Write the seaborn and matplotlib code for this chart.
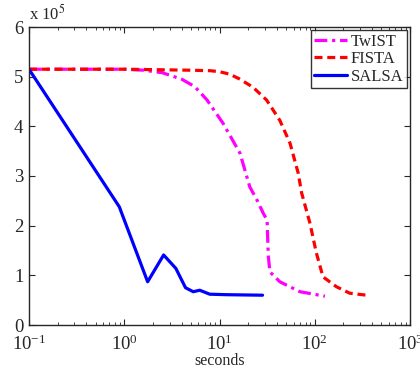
import seaborn as sns
import matplotlib.pyplot as plt
import pandas as pd

# values (y in units of 1e5)
twist_t = [0.1, 0.5, 1.0, 1.6, 2.5, 4.0, 5.5, 7.4, 10.9, 16.4, 20.8, 25.0, 28.8, 31.6, 32.5, 33.8, 43.0, 70.0, 128.0]
twist_y = [5.15, 5.15, 5.15, 5.13, 5.08, 4.95, 4.80, 4.53, 4.06, 3.46, 2.78, 2.50, 2.25, 2.11, 1.40, 1.07, 0.87, 0.67, 0.58]

fista_t = [0.1, 1.0, 5.0, 8.0, 10.0, 12.8, 16.0, 22.4, 31.2, 43.0, 55.0, 67.0, 72.8, 89.0, 104.0, 122.0, 169.0, 233.0, 350.0]
fista_y = [5.15, 5.15, 5.13, 5.12, 5.10, 5.05, 4.96, 4.79, 4.53, 4.12, 3.66, 3.06, 2.66, 2.05, 1.45, 0.97, 0.77, 0.64, 0.60]

salsa_t = [0.1, 0.887, 1.76, 2.59, 3.48, 4.4, 5.3, 6.2, 7.9, 12.0, 28.3]
salsa_y = [5.15, 2.38, 0.87, 1.41, 1.14, 0.75, 0.67, 0.70, 0.62, 0.61, 0.60]

labels = ["TwIST", "FISTA", "SALSA"]
colors = ["#ff00ff", "#ff0000", "#0000ff"]
styles = [(0, (4, 1.5, 1, 1.5)), (0, (2.5, 1.5)), "-"]

sns.set_style("ticks")
plt.rcParams["font.family"] = ["Liberation Serif", "DejaVu Serif"]
plt.rcParams["mathtext.fontset"] = "stix"

fig = plt.figure(figsize=(4.2, 3.71), dpi=100)
ax = fig.add_axes([29 / 420, 46 / 371, 381 / 420, 298 / 371])

series = [(twist_t, twist_y), (fista_t, fista_y), (salsa_t, salsa_y)]
for (t, y), lab, c, ls in zip(series, labels, colors, styles):
    df = pd.DataFrame({"t": t, "y": y})
    sns.lineplot(data=df, x="t", y="y", ax=ax, color=c, lw=2.3, linestyle=ls,
                 label=lab, sort=False, estimator=None)

ax.set_xscale("log")
ax.set_xlim(0.1, 1000)
ax.set_ylim(0, 6)
ax.set_yticks(range(0, 7))
ax.set_xlabel("seconds", fontsize=11.5, labelpad=-1)
ax.set_ylabel("")
ax.tick_params(which="both", direction="in", top=True, right=True, labelsize=13.5)
ax.tick_params(axis="x", which="major", pad=7)
ax.tick_params(axis="y", which="major", pad=4)
ax.tick_params(which="major", length=4)
ax.tick_params(which="minor", length=2)
for s in ax.spines.values():
    s.set_linewidth(1.0)
ax.text(0.0, 1.01, r"x 10$^5$", transform=ax.transAxes, fontsize=12, ha="left", va="bottom")

leg = ax.legend(loc="upper right", fontsize=12, frameon=True, fancybox=False,
                handlelength=2.0, handletextpad=0.2, borderpad=0.2, labelspacing=0.1,
                borderaxespad=0.2)
leg.get_frame().set_edgecolor("black")
leg.get_frame().set_linewidth(1.0)

fig.savefig("out.png", dpi=100)
